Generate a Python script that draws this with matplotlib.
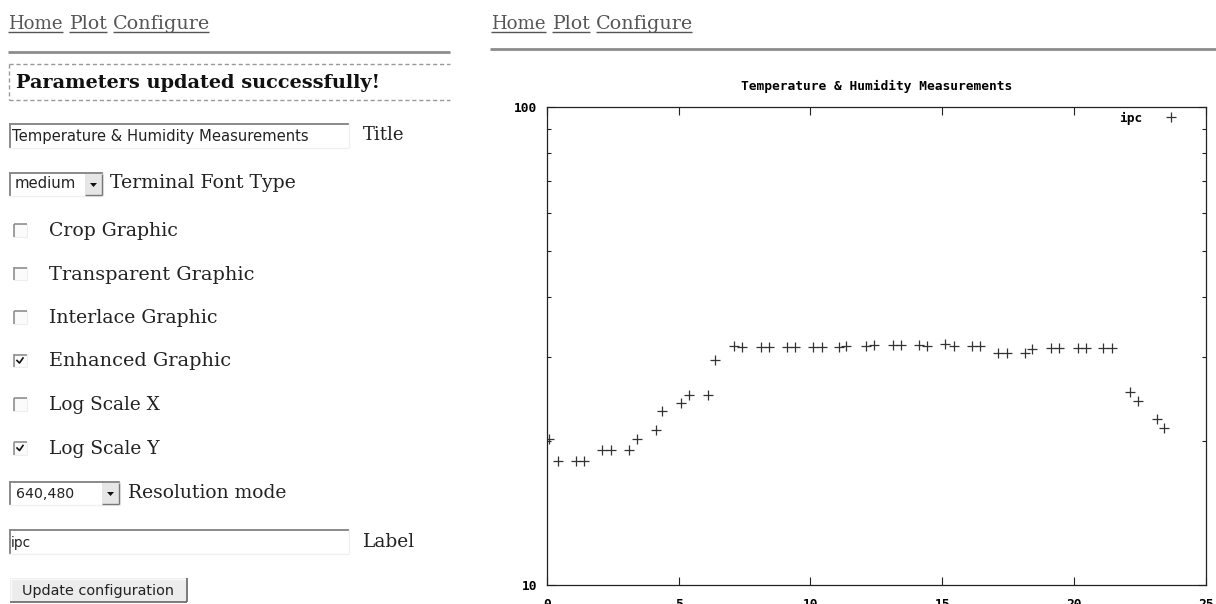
import matplotlib
matplotlib.use("Agg")
import matplotlib.pyplot as plt
from matplotlib.patches import Rectangle, Polygon
from matplotlib.ticker import FixedLocator, NullFormatter

# measurement data (hour of day, reading)
hours = [0.10, 0.43, 1.11, 1.43, 2.11, 2.44, 3.12, 3.44, 4.13, 4.38,
         5.08, 5.39, 6.10, 6.40, 7.09, 7.42, 8.11, 8.42, 9.12, 9.43,
         10.11, 10.43, 11.07, 11.35, 12.11, 12.40, 13.12, 13.42, 14.13, 14.42,
         15.11, 15.43, 16.13, 16.43, 17.12, 17.44, 18.13, 18.42, 19.12, 19.44,
         20.13, 20.44, 21.11, 21.43, 22.12, 22.44, 23.13, 23.41]
values = [20.2, 18.2, 18.2, 18.2, 19.15, 19.15, 19.15, 20.2, 21.1, 23.1,
          24.05, 25.0, 25.0, 29.5, 31.6, 31.4, 31.4, 31.4, 31.4, 31.4,
          31.4, 31.4, 31.4, 31.6, 31.65, 31.75, 31.75, 31.75, 31.75, 31.6,
          31.85, 31.65, 31.65, 31.65, 30.5, 30.5, 30.5, 31.1, 31.25, 31.25,
          31.25, 31.25, 31.25, 31.25, 25.3, 24.3, 22.2, 21.3]

chart_title = "Temperature & Humidity Measurements"
series_label = "ipc"
x_ticks = [0, 5, 10, 15, 20, 25]
y_major = [10, 100]
y_minor = [20, 30, 40, 50, 60, 70, 80, 90]

nav_links = ["Home", "Plot", "Configure"]
checkboxes = [("Crop Graphic", False), ("Transparent Graphic", False),
              ("Interlace Graphic", False), ("Enhanced Graphic", True),
              ("Log Scale X", False), ("Log Scale Y", True)]

W, H = 1216, 604
fig = plt.figure(figsize=(W / 100, H / 100), dpi=100)
renderer = fig.canvas.get_renderer()

# page layer in pixel coordinates
ui = fig.add_axes([0, 0, 1, 1], zorder=0)
ui.set_xlim(0, W)
ui.set_ylim(H, 0)
ui.axis("off")


def put(x, y, s, width, family="DejaVu Serif", color="#222222", **kw):
    """Place text at baseline y, scaled so it spans `width` pixels."""
    t = ui.text(x, y, s, fontsize=12, family=family, color=color,
                va="baseline", ha="left", **kw)
    bb = t.get_window_extent(renderer)
    t.set_fontsize(12 * width / bb.width)
    return t


def hline(x0, x1, y, color, lw=1.0, **kw):
    ui.plot([x0, x1], [y, y], color=color, lw=lw, solid_capstyle="butt", **kw)


def vline(x, y0, y1, color, lw=1.0, **kw):
    ui.plot([x, x], [y0, y1], color=color, lw=lw, solid_capstyle="butt", **kw)


def field(x0, y0, x1, y1):
    ui.add_patch(Rectangle((x0, y0), x1 - x0, y1 - y0, facecolor="white",
                           edgecolor="none"))
    hline(x0, x1, y0 + 0.7, "#8a8a8a", 1.4)
    vline(x0 + 0.7, y0, y1, "#8a8a8a", 1.4)
    hline(x0, x1, y1 - 0.5, "#f0f0f0", 1.0)
    vline(x1 - 0.5, y0, y1, "#f0f0f0", 1.0)


def select_arrow(x0, y0, x1, y1):
    ui.add_patch(Rectangle((x0, y0), x1 - x0, y1 - y0, facecolor="#e6e6e6",
                           edgecolor="none"))
    hline(x0, x1, y1 - 0.5, "#777777", 1.0)
    vline(x1 - 0.5, y0, y1, "#777777", 1.0)
    cx, cy = (x0 + x1) / 2, (y0 + y1) / 2
    ui.add_patch(Polygon([[cx - 3.5, cy - 1.5], [cx + 3.5, cy - 1.5], [cx, cy + 2.5]],
                         closed=True, facecolor="#111111", edgecolor="none"))


# navigation bars (left form column and right plot column)
link_pos = [(8, 55), (69, 38), (113, 96)]
for shift in (0, 483):
    for name, (lx, lw_) in zip(nav_links, link_pos):
        put(lx + shift, 29.3, name, lw_, color="#555555")
        hline(lx + shift, lx + shift + lw_, 31.5, "#555555", 1.0)
hline(8, 450, 51.5, "#8c8c8c", 2.0)
hline(490, W, 48.5, "#8c8c8c", 2.0)

# status message box
for yy in (63.5, 99.5):
    hline(8.5, 450, yy, "#999999", 1.0, linestyle=(0, (3, 2)))
vline(8.5, 63.5, 99.5, "#999999", 1.0, linestyle=(0, (3, 2)))
put(16, 88, "Parameters updated successfully!", 362, weight="bold", color="#111111")

# title input
field(9, 123, 349, 148)
put(12, 140.5, chart_title, 293, family="DejaVu Sans", color="#222222")
put(363, 140, "Title", 41)

# font select
field(9, 172, 103, 196)
select_arrow(85, 174, 102, 195)
put(15, 188.3, "medium", 61, family="DejaVu Sans")
put(110, 188.3, "Terminal Font Type", 185)

# checkboxes
cb_rows = [230, 273.5, 317, 360.5, 404, 448]
label_w = [129, 203, 168, 180, 111, 111]
for (label, checked), cy, lw_ in zip(checkboxes, cb_rows, label_w):
    ui.add_patch(Rectangle((13.5, cy - 6.5), 13, 13, facecolor="#fbfbfb",
                           edgecolor="#eeeeee", lw=0.8))
    hline(13.5, 26.5, cy - 6, "#909090", 1.2)
    vline(14, cy - 6.5, cy + 6.5, "#909090", 1.2)
    if checked:
        ui.plot([17, 19.5, 23], [cy, cy + 2.5, cy - 2.5], color="#111111", lw=1.2)
    put(49, cy + 6, label, lw_)

# resolution select
field(9, 481, 120, 505)
select_arrow(102, 483, 119, 504)
put(16, 498.3, "640,480", 58, family="DejaVu Sans")
put(128, 498.3, "Resolution mode", 159)

# label input
field(9, 529, 349, 554)
put(11, 546.5, series_label, 20, family="DejaVu Sans")
put(363, 546.7, "Label", 52)

# submit button
ui.add_patch(Rectangle((10, 578), 177, 24, facecolor="#ececec", edgecolor="none"))
hline(10, 187, 578.5, "#fafafa", 1.0)
vline(10.5, 578, 602, "#fafafa", 1.0)
hline(10, 187, 601.5, "#666666", 1.2)
vline(186.5, 578, 602, "#666666", 1.2)
put(22, 595, "Update configuration", 152, family="DejaVu Sans")

# the gnuplot chart
left, right, top, bottom = 546.7, 1206.0, 106.7, 585.0
ax = fig.add_axes([left / W, 1 - bottom / H, (right - left) / W, (bottom - top) / H],
                  zorder=1)
mono = {"family": "DejaVu Sans Mono", "weight": "bold", "size": 9.3}

ax.plot(hours, values, linestyle="none", marker="+", ms=6.5, mew=0.9,
        color="#333333", label=series_label)
ax.set_yscale("log")
ax.set_xlim(0, 25)
ax.set_ylim(10, 100)

ax.xaxis.set_major_locator(FixedLocator(x_ticks))
ax.yaxis.set_major_locator(FixedLocator(y_major))
ax.yaxis.set_minor_locator(FixedLocator(y_minor))
ax.yaxis.set_minor_formatter(NullFormatter())
ax.set_xticklabels([str(v) for v in x_ticks], **mono)
ax.set_yticklabels([str(v) for v in y_major], **mono)
ax.tick_params(which="both", direction="in", top=True, right=True,
               color="#222222", width=0.8)
ax.tick_params(axis="x", which="major", length=6, pad=9)
ax.tick_params(axis="y", which="major", length=6, pad=7)
ax.tick_params(axis="y", which="minor", length=3)
for sp in ax.spines.values():
    sp.set_color("#222222")
    sp.set_linewidth(0.9)

ax.set_title(chart_title, pad=12, **mono)
ax.legend(loc="upper right", bbox_to_anchor=(0.9666, 1.0), frameon=False,
          markerfirst=False, prop=mono, handlelength=1.2, handletextpad=1.6,
          borderaxespad=0.2, borderpad=0.2)

fig.savefig("out.png", dpi=100)
